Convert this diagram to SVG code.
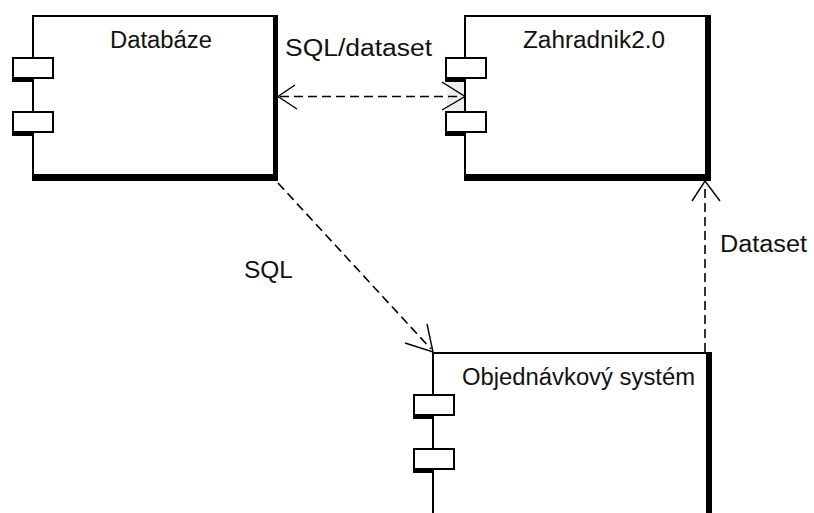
<svg xmlns="http://www.w3.org/2000/svg" width="814" height="513" viewBox="0 0 814 513">
  <defs>
    <style>
      .body { fill: #ffffff; stroke: #000000; stroke-width: 2; }
      .thick { fill: #000000; }
      .port { fill: #ffffff; stroke: #000000; stroke-width: 2; }
      .label { font-family: "Liberation Sans", Arial, sans-serif; font-size: 23px; fill: #111111; }
      .dash { fill: none; stroke: #000000; stroke-width: 1.6; stroke-dasharray: 9 5; }
      .head { fill: none; stroke: #000000; stroke-width: 1.4; }
    </style>
  </defs>

  <rect width="814" height="513" fill="#ffffff"/>

  <!-- Component: Databáze -->
  <g id="databaze">
    <rect class="body" x="33" y="16" width="242" height="161"/>
    <rect class="thick" x="273" y="15" width="5" height="166"/>
    <rect class="thick" x="32" y="174" width="246" height="7"/>
    <rect class="thick" x="12" y="78" width="21" height="4"/>
    <rect class="port" x="13" y="58" width="40" height="20"/>
    <rect class="thick" x="12" y="132" width="21" height="4"/>
    <rect class="port" x="13" y="112" width="40" height="20"/>
    <text class="label" x="110" y="48" textLength="102" lengthAdjust="spacingAndGlyphs">Databáze</text>
  </g>

  <!-- Component: Zahradnik2.0 -->
  <g id="zahradnik">
    <rect class="body" x="465" y="16" width="242" height="161"/>
    <rect class="thick" x="705" y="15" width="6" height="166"/>
    <rect class="thick" x="464" y="174" width="247" height="7"/>
    <rect x="447" y="82" width="17" height="30" fill="#eeeeee"/>
    <rect class="thick" x="445" y="78" width="20" height="4"/>
    <rect class="port" x="446" y="58" width="40" height="20"/>
    <rect class="thick" x="445" y="132" width="20" height="4"/>
    <rect class="port" x="446" y="112" width="40" height="20"/>
    <text class="label" x="523" y="48" textLength="142" lengthAdjust="spacingAndGlyphs">Zahradnik2.0</text>
  </g>

  <!-- Component: Objednávkový systém -->
  <g id="objednavkovy-system">
    <rect class="body" x="433" y="353" width="276" height="180"/>
    <rect class="thick" x="706" y="352" width="6" height="181"/>
    <rect class="thick" x="413" y="415" width="20" height="4"/>
    <rect class="port" x="414" y="395" width="40" height="20"/>
    <rect class="thick" x="413" y="469" width="20" height="4"/>
    <rect class="port" x="414" y="449" width="40" height="20"/>
    <text class="label" x="462" y="385" textLength="233" lengthAdjust="spacingAndGlyphs">Objednávkový systém</text>
  </g>

  <!-- Dependencies -->
  <g id="connectors">
    <!-- SQL/dataset: two-way between Databáze and Zahradnik2.0 -->
    <line class="dash" x1="280" y1="96.5" x2="462" y2="96.5"/>
    <polyline class="head" points="295,85 278,96.5 297,109"/>
    <polyline class="head" points="442,82 465,96.5 442,110"/>
    <text class="label" x="285" y="56" textLength="147" lengthAdjust="spacingAndGlyphs">SQL/dataset</text>

    <!-- SQL: Databáze to Objednávkový systém -->
    <line class="dash" x1="278" y1="183" x2="431" y2="349"/>
    <polyline class="head" points="405,343 433,352 427,324"/>
    <text class="label" x="244" y="278" textLength="49" lengthAdjust="spacingAndGlyphs">SQL</text>

    <!-- Dataset: Objednávkový systém to Zahradnik2.0 -->
    <line class="dash" x1="705" y1="352" x2="705" y2="184"/>
    <polyline class="head" points="692,201 705,181 720,201"/>
    <text class="label" x="720" y="252" textLength="87" lengthAdjust="spacingAndGlyphs">Dataset</text>
  </g>
</svg>
